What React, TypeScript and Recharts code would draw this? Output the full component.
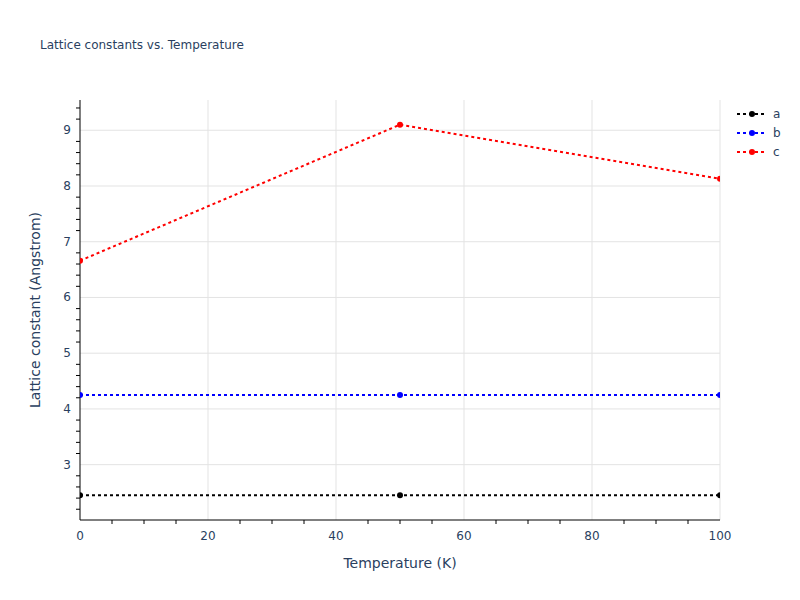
import React from "react";
import {
  Legend,
  Line,
  LineChart,
  ReferenceLine,
  XAxis,
  YAxis
} from "recharts";

const temperatures = [0, 50, 100];
const latticeA = [2.45, 2.45, 2.45];
const latticeB = [4.25, 4.25, 4.25];
const latticeC = [6.66, 9.1, 8.13];

const seriesKeys = ["a", "b", "c"];
const seriesColors = ["#000000", "#0000ff", "#ff0000"];

const xMajorTicks = [0, 20, 40, 60, 80, 100];
const xMinorTicks = [5, 10, 15, 25, 30, 35, 45, 50, 55, 65, 70, 75, 85, 90, 95];
const yMajorTicks = [3, 4, 5, 6, 7, 8, 9];
const yMinorTicks = [
  2.2, 2.4, 2.6, 2.8, 3.2, 3.4, 3.6, 3.8, 4.2, 4.4, 4.6, 4.8, 5.2, 5.4, 5.6, 5.8,
  6.2, 6.4, 6.6, 6.8, 7.2, 7.4, 7.6, 7.8, 8.2, 8.4, 8.6, 8.8, 9.2, 9.4
];

const FONT = "Verdana, 'DejaVu Sans', sans-serif";
const INK = "#2a3f5f";
const GRID = "#e3e3e3";

const data = temperatures.map((t, i) => ({
  t,
  a: latticeA[i],
  b: latticeB[i],
  c: latticeC[i]
}));

function XTick({ x, y, payload }: any) {
  if (xMajorTicks.includes(payload.value)) {
    return (
      <text x={x} y={y + 20} textAnchor="middle" fill={INK} fontSize={12} fontFamily={FONT}>
        {payload.value}
      </text>
    );
  }
  return <line x1={x} x2={x} y1={y} y2={y + 4} stroke="#000" strokeWidth={1} />;
}

function YTick({ x, y, payload }: any) {
  if (yMajorTicks.includes(payload.value)) {
    return (
      <text x={x - 9} y={y} dy={4} textAnchor="end" fill={INK} fontSize={12} fontFamily={FONT}>
        {payload.value}
      </text>
    );
  }
  return <line x1={x - 4} x2={x} y1={y} y2={y} stroke="#000" strokeWidth={1} />;
}

function LegendBox() {
  return (
    <svg width={60} height={60} style={{ overflow: "visible" }}>
      {seriesKeys.map((key, i) => {
        const cy = 10 + i * 19;
        return (
          <g key={key}>
            <line
              x1={2}
              x2={30}
              y1={cy}
              y2={cy}
              stroke={seriesColors[i]}
              strokeWidth={2}
              strokeDasharray="3 3"
            />
            <circle cx={17} cy={cy} r={3} fill={seriesColors[i]} />
            <text x={38} y={cy + 4} fill={INK} fontSize={12} fontFamily={FONT}>
              {key}
            </text>
          </g>
        );
      })}
    </svg>
  );
}

export default function App() {
  return (
    <div
      style={{
        position: "absolute",
        left: 0,
        top: 0,
        width: 800,
        height: 600,
        background: "#fff",
        fontFamily: FONT
      }}
    >
      <div
        style={{
          position: "absolute",
          left: 40,
          top: 37,
          fontSize: 12,
          lineHeight: "16px",
          color: INK,
          whiteSpace: "nowrap"
        }}
      >
        Lattice constants vs. Temperature
      </div>
      <LineChart
        width={800}
        height={600}
        data={data}
        margin={{ top: 100, right: 80, bottom: 0, left: 0 }}
      >
        {yMajorTicks.map((v) => (
          <ReferenceLine key={"h" + v} y={v} stroke={GRID} strokeWidth={1} />
        ))}
        {xMajorTicks.slice(1).map((v) => (
          <ReferenceLine key={"v" + v} x={v} stroke={GRID} strokeWidth={1} />
        ))}
        <XAxis
          dataKey="t"
          type="number"
          domain={[0, 100]}
          allowDataOverflow
          ticks={[...xMajorTicks, ...xMinorTicks].sort((p, q) => p - q)}
          interval={0}
          tickSize={0}
          tickMargin={0}
          tickLine={false}
          axisLine={{ stroke: "#000", strokeWidth: 1 }}
          tick={<XTick />}
          height={80}
          label={({ viewBox }: any) => (
            <text
              x={viewBox.x + viewBox.width / 2}
              y={568}
              textAnchor="middle"
              fill={INK}
              fontSize={14}
              fontFamily={FONT}
            >
              Temperature (K)
            </text>
          )}
        />
        <YAxis
          type="number"
          domain={[2.007, 9.543]}
          allowDataOverflow
          ticks={[...yMajorTicks, ...yMinorTicks].sort((p, q) => p - q)}
          interval={0}
          tickSize={0}
          tickMargin={0}
          tickLine={false}
          axisLine={{ stroke: "#000", strokeWidth: 1 }}
          tick={<YTick />}
          width={80}
          label={({ viewBox }: any) => {
            const cy = viewBox.y + viewBox.height / 2;
            return (
              <text
                x={35}
                y={cy}
                transform={`rotate(-90 35 ${cy})`}
                textAnchor="middle"
                dominantBaseline="central"
                fill={INK}
                fontSize={14}
                fontFamily={FONT}
              >
                Lattice constant (Angstrom)
              </text>
            );
          }}
        />
        {seriesKeys.map((key, i) => (
          <Line
            key={key}
            type="linear"
            dataKey={key}
            name={key}
            stroke={seriesColors[i]}
            strokeWidth={2}
            strokeDasharray="3 3"
            dot={{ r: 3, fill: seriesColors[i], stroke: "none" }}
            activeDot={false}
            isAnimationActive={false}
          />
        ))}
        <Legend
          layout="horizontal"
          verticalAlign="middle"
          align="right"
          content={() => <LegendBox />}
          wrapperStyle={{
            top: 104,
            left: 735,
            width: 0,
            height: 0,
            right: "auto",
            overflow: "visible"
          }}
        />
      </LineChart>
    </div>
  );
}
